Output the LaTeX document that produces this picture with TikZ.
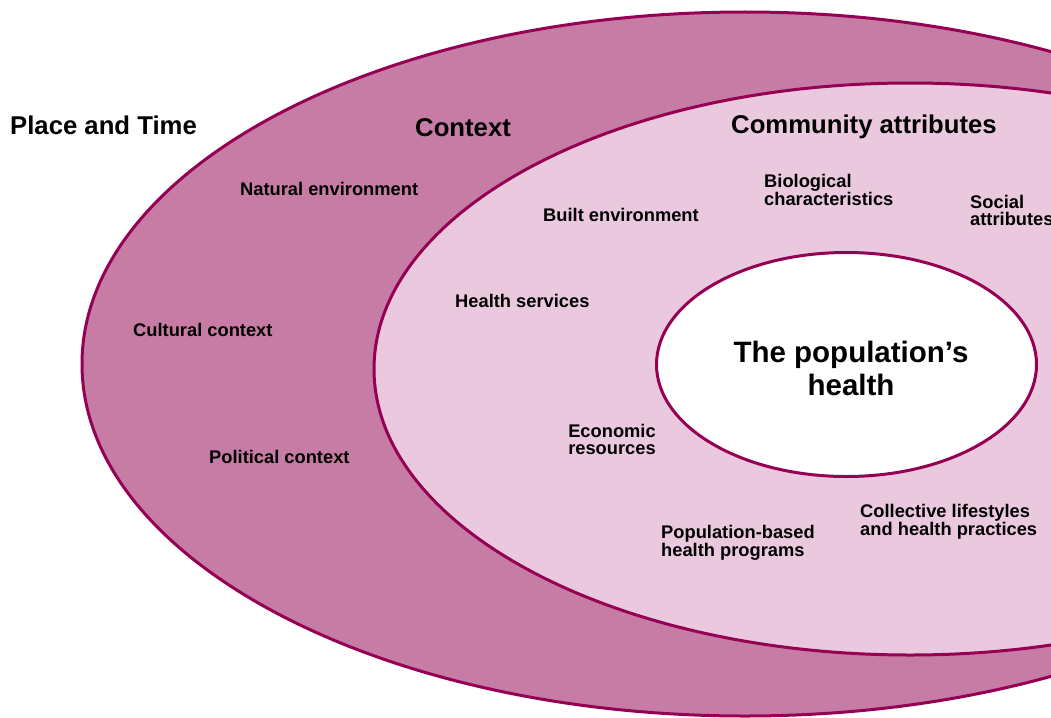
\documentclass[tikz,border=0pt]{standalone}
\usepackage{fontspec}
\setmainfont{Liberation Sans}
\definecolor{rim}{HTML}{950055}
\definecolor{outerfill}{HTML}{C67CA5}
\definecolor{midfill}{HTML}{EAC9DE}
\begin{document}
\begin{tikzpicture}[x=1pt,y=-1pt,
  ring/.style={draw=rim,line width=3pt},
  head/.style={font=\fontsize{25.7}{28}\selectfont\bfseries,inner sep=0pt},
  lab/.style={font=\fontsize{18.3}{17}\selectfont\bfseries,inner sep=0pt,align=left},
  core/.style={font=\fontsize{29.5}{33}\selectfont\bfseries,inner sep=0pt,align=center}]
\useasboundingbox (0,0) rectangle (1051,717);
\begin{scope}
\clip (0,0) rectangle (1051,717);
\fill[white] (0,0) rectangle (1051,717);
\draw[ring,fill=outerfill] (745,364) ellipse [x radius=663pt, y radius=352pt];
\draw[ring,fill=midfill] (910,369) ellipse [x radius=536pt, y radius=286pt];
\draw[ring,fill=white] (846.5,364.5) ellipse [x radius=190pt, y radius=112pt];
\end{scope}
\node[head,anchor=west] (pt) at (10,125) {Place and Time};
\node[head,anchor=west] (ctx) at (415,128) {Context};
\node[head,anchor=west] (ca) at (731,127) {Community attributes};
\node[lab,anchor=west] (ne) at (240,189) {Natural environment};
\node[lab,anchor=west] (be) at (543,215) {Built environment};
\node[lab,anchor=west] (bc) at (764,190) {Biological\\characteristics};
\node[lab,anchor=west] (sa) at (970,210) {Social\\attributes};
\node[lab,anchor=west] (hs) at (455,301) {Health services};
\node[lab,anchor=west] (cc) at (133,330) {Cultural context};
\node[core] (ph) at (851,368) {The population’s\\health};
\node[lab,align=center] (er) at (612,439) {Economic\\resources};
\node[lab,anchor=west] (pc) at (209,457) {Political context};
\node[lab,anchor=west] (cl) at (860,522) {Collective lifestyles\\and health practices};
\node[lab,anchor=west] (pb) at (661,543) {Population-based\\health programs};
\end{tikzpicture}
\end{document}
